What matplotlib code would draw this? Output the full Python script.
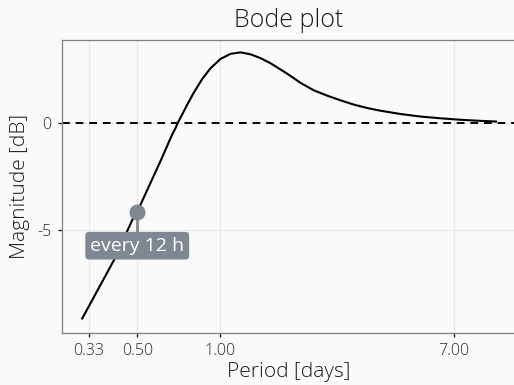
import numpy as np
import matplotlib.pyplot as plt

# values (period in days, magnitude in dB)
period = [0.316, 0.412, 0.483, 0.5, 0.520, 0.614, 0.664, 0.687, 0.700, 0.757,
          0.800, 0.858, 0.920, 1.0, 1.087, 1.182, 1.285, 1.397, 1.519, 1.746,
          1.951, 2.180, 2.438, 2.726, 3.047, 3.407, 3.784, 4.50, 5.32, 6.28,
          7.43, 8.78, 9.95]
magnitude = [-9.15, -6.41, -4.45, -4.17, -3.67, -1.63, -0.62, -0.24, 0.0, 0.85,
             1.42, 2.06, 2.57, 3.01, 3.25, 3.32, 3.23, 3.05, 2.81, 2.32,
             1.89, 1.54, 1.29, 1.07, 0.87, 0.71, 0.59, 0.43, 0.31, 0.23,
             0.16, 0.11, 0.08]

tick_pos = [1 / 3, 0.5, 1.0, 7.0]
tick_lab = ["0.33", "0.50", "1.00", "7.00"]

mark_period = 0.5
mark_mag = -4.17
mark_text = "every 12 h"

bg = "#fafafa"
grey = "#7f8892"

plt.rcParams["font.family"] = ["Open Sans", "DejaVu Sans"]
plt.rcParams["font.weight"] = "light"
plt.rcParams["axes.titleweight"] = "light"
plt.rcParams["axes.labelweight"] = "light"

fig = plt.figure(figsize=(5.14, 3.85), dpi=100, facecolor=bg)
ax = fig.add_axes([62 / 514, 1 - 333 / 385, 1 - 62 / 514 + 0.002, (333 - 40) / 385])
ax.set_facecolor(bg)

ax.set_xscale("log")
ax.set_xlim(0.267, 11.66)
ax.set_ylim(-9.83, 3.90)

ax.grid(True, color="#e8e8e8", linewidth=0.8)
ax.set_axisbelow(True)

ax.axhline(0, color="black", linestyle=(0, (4, 3)), linewidth=1.4, zorder=2)
ax.plot(period, magnitude, color="black", linewidth=1.5, zorder=3,
        solid_joinstyle="round")

# annotation
ax.plot([mark_period, mark_period], [mark_mag, -5.4], color=grey, linewidth=2, zorder=4)
ax.plot([mark_period], [mark_mag], "o", color=grey, markersize=10.5, zorder=5)
ax.text(mark_period, -5.74, mark_text, ha="center", va="center", color="white",
        fontsize=14, fontweight="normal", zorder=6,
        bbox=dict(boxstyle="round,pad=0.25,rounding_size=0.2", fc=grey, ec="none"))

ax.set_xticks(tick_pos)
ax.set_xticklabels(tick_lab)
ax.xaxis.set_minor_locator(plt.NullLocator())
ax.set_yticks([-5, 0])
ax.set_yticklabels(["-5", "0"])
ax.tick_params(axis="both", length=3, width=1, color="#222222",
               labelsize=11.5, labelcolor="#2a2a2a", pad=4.5)

for side in ["left", "bottom", "top"]:
    ax.spines[side].set_color("#808080")
    ax.spines[side].set_linewidth(0.9)
ax.spines["right"].set_visible(False)

ax.set_xlabel("Period [days]", fontsize=15, color="#1a1a1a", labelpad=2)
ax.set_ylabel("Magnitude [dB]", fontsize=15, color="#1a1a1a", labelpad=5)
ax.set_title("Bode plot", fontsize=18, color="#1a1a1a", pad=9)

fig.savefig("out.png", dpi=100, facecolor=bg)
